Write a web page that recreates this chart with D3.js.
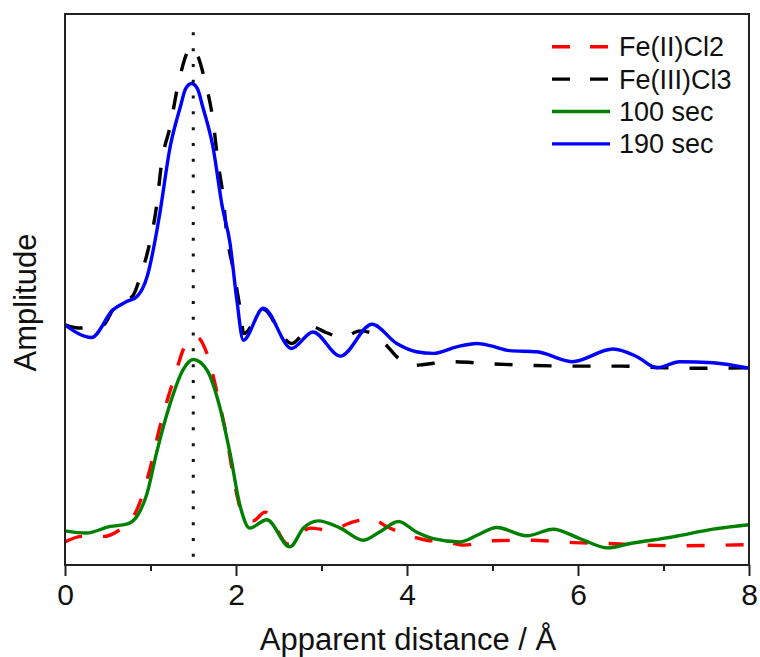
<!DOCTYPE html>
<html>
<head>
<meta charset="utf-8">
<script src="https://cdn.jsdelivr.net/npm/d3@7"></script>
<style>
  html, body { margin: 0; padding: 0; background: #fff; }
  svg { display: block; font-family: "Liberation Sans", Arial, sans-serif; }
</style>
</head>
<body>
<div id="chart"></div>
<script>
// Fourier-transformed EXAFS, values (arbitrary amplitude units)
const fe2cl2 = [
  [0, 0.42], [0.2, 0.52], [0.45, 0.52], [0.6, 0.6], [0.84, 1.0], [0.99, 1.72],
  [1.11, 2.51], [1.27, 3.36], [1.42, 4.02], [1.54, 4.14], [1.66, 3.84], [1.79, 3.05],
  [1.89, 2.33], [1.99, 1.42], [2.09, 0.88], [2.2, 0.8], [2.34, 0.96], [2.61, 0.38],
  [2.87, 0.67], [3.1, 0.63], [3.33, 0.76], [3.57, 0.85], [3.76, 0.7], [4.01, 0.54],
  [4.23, 0.45], [4.46, 0.42], [4.66, 0.36], [5.0, 0.44], [5.45, 0.45], [5.9, 0.41],
  [6.34, 0.39], [6.8, 0.36], [7.24, 0.35], [7.69, 0.36], [8.0, 0.37]
]

const fe3cl3 = [
  [0, 4.36], [0.18, 4.3], [0.45, 4.36], [0.56, 4.63], [0.72, 4.8], [0.8, 4.9],
  [0.88, 5.23], [0.99, 5.84], [1.07, 6.5], [1.13, 7.3], [1.23, 7.96], [1.33, 8.77],
  [1.48, 9.4], [1.64, 8.77], [1.73, 8.08], [1.79, 7.3], [1.85, 6.68], [1.89, 6.03],
  [1.97, 5.35], [2.05, 4.63], [2.09, 4.2], [2.32, 4.64], [2.55, 4.14], [2.65, 4.02],
  [2.88, 4.33], [3.05, 4.22], [3.25, 4.13], [3.45, 4.25], [3.6, 4.2], [3.75, 4.0],
  [3.9, 3.75], [4.05, 3.62], [4.2, 3.64], [4.5, 3.69], [5.0, 3.65], [5.5, 3.62],
  [6.0, 3.61], [6.5, 3.61], [7.0, 3.58], [7.5, 3.57], [8.0, 3.58]
]

const sec100 = [
  [0, 0.62], [0.25, 0.58], [0.53, 0.7], [0.72, 0.74], [0.84, 0.88], [0.96, 1.3],
  [1.07, 2.03], [1.23, 2.93], [1.38, 3.54], [1.5, 3.73], [1.66, 3.54], [1.81, 2.87],
  [1.93, 2.03], [2.05, 1.06], [2.16, 0.67], [2.36, 0.82], [2.63, 0.33], [2.79, 0.67],
  [2.96, 0.8], [3.22, 0.67], [3.49, 0.45], [3.68, 0.6], [3.9, 0.79], [4.11, 0.6],
  [4.31, 0.48], [4.62, 0.42], [4.82, 0.54], [5.05, 0.68], [5.4, 0.53], [5.71, 0.65],
  [6.02, 0.48], [6.35, 0.31], [6.61, 0.39], [7.11, 0.51], [7.58, 0.65], [8.0, 0.73]
]

const sec190 = [
  [0, 4.36], [0.31, 4.13], [0.56, 4.63], [0.72, 4.78], [0.84, 4.87], [0.96, 5.23],
  [1.07, 6.03], [1.11, 6.39], [1.23, 7.59], [1.35, 8.32], [1.41, 8.64], [1.48, 8.74],
  [1.55, 8.64], [1.61, 8.32], [1.73, 7.59], [1.84, 6.5], [1.93, 5.84], [2.01, 4.81],
  [2.085, 4.08], [2.32, 4.66], [2.65, 3.93], [2.9, 4.23], [3.22, 3.79], [3.59, 4.37],
  [3.88, 4.02], [4.11, 3.87], [4.31, 3.84], [4.58, 3.96], [4.82, 4.02], [4.97, 3.98],
  [5.2, 3.89], [5.52, 3.87], [5.93, 3.69], [6.41, 3.92], [6.69, 3.78], [6.92, 3.58],
  [7.19, 3.69], [7.58, 3.67], [8.0, 3.57]
]

const seriesNames = ["Fe(II)Cl2", "Fe(III)Cl3", "100 sec", "190 sec"]
const seriesColors = ["#ff0000", "#000000", "#008000", "#0000ff"]
const seriesDashed = [true, true, false, false]
const xTicks = [0, 2, 4, 6, 8]
const xMinorTicks = [1, 3, 5, 7]
const markerX = 1.5
const markerRange = [0.15, 9.72]

const W = 760
const H = 657
const margin = { top: 14, right: 11, bottom: 92, left: 65 }
const width = W - margin.left - margin.right
const height = H - margin.top - margin.bottom

const svg = d3.select("#chart")
  .append("svg")
  .attr("width", W)
  .attr("height", H)

const g = svg.append("g")
  .attr("transform", `translate(${margin.left}, ${margin.top})`)

const x = d3.scaleLinear().domain([0, 8]).range([0, width])
const y = d3.scaleLinear().domain([0, 10]).range([height, 0])

const line = d3.line()
  .x(d => x(d[0]))
  .y(d => y(d[1]))
  .curve(d3.curveMonotoneX)

const allSeries = [fe2cl2, fe3cl3, sec100, sec190]

// curves
allSeries.forEach((data, i) => {
  g.append("path")
    .datum(data)
    .attr("fill", "none")
    .attr("stroke", seriesColors[i])
    .attr("stroke-width", 3.4)
    .attr("stroke-dasharray", seriesDashed[i] ? "18,21" : null)
    .attr("d", line)
})

// vertical dotted marker
g.append("line")
  .attr("x1", x(markerX))
  .attr("x2", x(markerX))
  .attr("y1", y(markerRange[0]))
  .attr("y2", y(markerRange[1]))
  .attr("stroke", "#111")
  .attr("stroke-width", 3)
  .attr("stroke-dasharray", "3,12.8")

// x axis
const xAxis = g.append("g")
  .attr("transform", `translate(0, ${height})`)
  .call(d3.axisBottom(x).tickValues(xTicks).tickSize(11).tickPadding(8).tickFormat(d3.format("d")))
xAxis.call(a => a.select(".domain").remove())
xAxis.selectAll(".tick line").attr("stroke", "#222").attr("stroke-width", 2)
xAxis.selectAll(".tick text")
  .attr("fill", "#111")
  .style("font-size", "30px")

g.append("g")
  .attr("transform", `translate(0, ${height})`)
  .call(d3.axisBottom(x).tickValues(xMinorTicks).tickSize(6).tickFormat(""))
  .call(a => a.select(".domain").remove())
  .selectAll(".tick line").attr("stroke", "#222").attr("stroke-width", 2)

// frame
g.append("rect")
  .attr("width", width)
  .attr("height", height)
  .attr("fill", "none")
  .attr("stroke", "#222")
  .attr("stroke-width", 2)

// axis titles
svg.append("text")
  .attr("x", margin.left + width / 2 + 1)
  .attr("y", 650)
  .attr("text-anchor", "middle")
  .attr("fill", "#111")
  .style("font-size", "31px")
  .text("Apparent distance / Å")

svg.append("text")
  .attr("transform", `translate(36, ${margin.top + height / 2 + 13}) rotate(-90)`)
  .attr("text-anchor", "middle")
  .attr("fill", "#111")
  .style("font-size", "31px")
  .text("Amplitude")

// legend
const legend = g.append("g")
  .attr("transform", `translate(${552 - margin.left}, ${46.7 - margin.top})`)

const rows = legend.selectAll("g")
  .data(seriesNames)
  .join("g")
  .attr("transform", (d, i) => `translate(0, ${i * 32.4})`)

rows.append("line")
  .attr("x1", 0)
  .attr("x2", 58)
  .attr("stroke", (d, i) => seriesColors[i])
  .attr("stroke-width", 3.4)
  .attr("stroke-dasharray", (d, i) => seriesDashed[i] ? "18,20" : null)

rows.append("text")
  .attr("x", 67)
  .attr("dy", "0.35em")
  .attr("fill", "#111")
  .style("font-size", "27px")
  .text(d => d)
</script>
</body>
</html>
